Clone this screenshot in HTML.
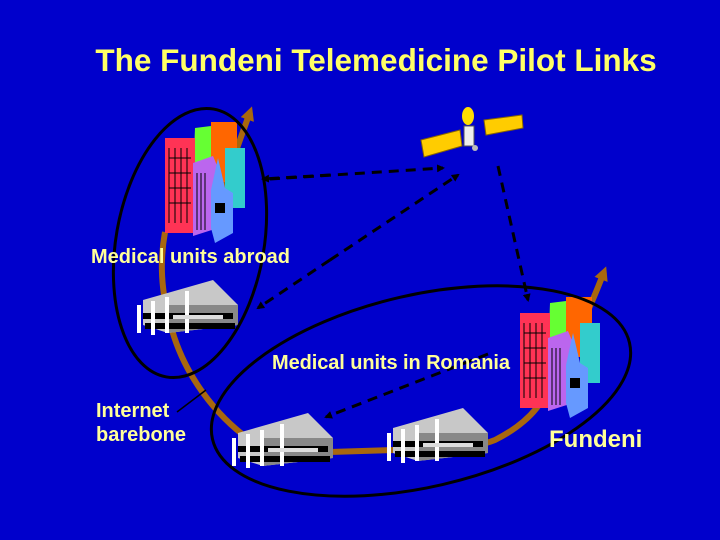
<!DOCTYPE html>
<html><head><meta charset="utf-8"><style>
html,body{margin:0;padding:0;background:#0000cc;}
svg{display:block}
text{font-family:"Liberation Sans",sans-serif;font-weight:bold;}
</style></head><body>
<svg width="720" height="540" viewBox="0 0 720 540" xmlns="http://www.w3.org/2000/svg">
<defs>
<marker id="ah" markerWidth="8" markerHeight="8" refX="6" refY="4" orient="auto" markerUnits="userSpaceOnUse"><path d="M0,0 L8,4 L0,8 Z" fill="#000"/></marker>
<marker id="bh" markerWidth="14" markerHeight="14" refX="8" refY="7" orient="auto" markerUnits="userSpaceOnUse"><path d="M0,0 L14,7 L0,14 Z" fill="#a8670e"/></marker>
<g id="bld">
<polygon points="10,25 80,5 105,30 105,50 35,58 10,50" fill="#c8c8c8"/>
<polygon points="35,30 105,30 105,50 35,58" fill="#888"/>
<rect x="10" y="38" width="90" height="6" fill="#000"/>
<rect x="12" y="48" width="90" height="6" fill="#000"/>
<rect x="4" y="30" width="4" height="28" fill="#fff"/>
<rect x="18" y="26" width="4" height="34" fill="#fff"/>
<rect x="32" y="22" width="4" height="36" fill="#fff"/>
<rect x="52" y="16" width="4" height="42" fill="#fff"/>
<rect x="40" y="40" width="50" height="4" fill="#ddd"/>
</g>
<g id="city">
<polygon points="32,10 48,8 52,22 54,60 30,62" fill="#66ff33"/>
<rect x="48" y="4" width="26" height="60" fill="#ff6600"/>
<rect x="62" y="30" width="20" height="60" fill="#33cccc"/>
<rect x="2" y="20" width="30" height="95" fill="#ff3355"/>
<g stroke="#000" stroke-width="1">
<path d="M6,30 V105 M12,30 V105 M18,30 V105 M24,30 V105 M6,40 H28 M6,55 H28 M6,70 H28 M6,85 H28"/>
</g>
<polygon points="30,45 50,38 55,50 55,110 30,118" fill="#bb66ee"/>
<path d="M34,55 V112 M38,55 V112 M42,55 V112" stroke="#000"/>
<polygon points="55,40 62,70 70,75 70,115 52,125 48,110 48,72" fill="#6699ff"/>
<rect x="52" y="85" width="10" height="10" fill="#000"/>
</g>
</defs>
<text x="376" y="71" font-size="31.5" fill="#ffff66" text-anchor="middle">The Fundeni Telemedicine Pilot Links</text>

<path d="M165,232 C160,260 160,290 172,330 C185,375 215,415 250,440 C270,452 300,452 330,452 L395,450 C430,450 470,450 495,440 C515,430 535,415 545,395" fill="none" stroke="#a8670e" stroke-width="6"/>
<path d="M215,215 C225,180 240,140 250,112" fill="none" stroke="#a8670e" stroke-width="6" marker-end="url(#bh)"/>
<path d="M570,345 C585,320 595,295 604,272" fill="none" stroke="#a8670e" stroke-width="6" marker-end="url(#bh)"/>

<use href="#city" x="163" y="118"/>
<use href="#city" x="518" y="293"/>
<use href="#bld" x="133" y="275"/>
<use href="#bld" x="228" y="408"/>
<use href="#bld" x="383" y="403"/>

<g>
<polygon points="421,140 460,130 462,146 424,157" fill="#ffcc00" stroke="#886600"/>
<polygon points="484,120 522,115 523,128 486,135" fill="#ffcc00" stroke="#886600"/>
<ellipse cx="468" cy="116" rx="6" ry="9" fill="#ffdd00"/>
<rect x="464" y="126" width="10" height="20" fill="#eee" stroke="#555"/>
<circle cx="475" cy="148" r="3" fill="#bbb"/>
</g>

<ellipse cx="190" cy="243" rx="74" ry="136" transform="rotate(10 190 243)" fill="none" stroke="#000" stroke-width="3"/>
<ellipse cx="421" cy="391" rx="214" ry="96" transform="rotate(-13 421 391)" fill="none" stroke="#000" stroke-width="3"/>

<g stroke="#000" stroke-width="3" stroke-dasharray="10,7" fill="none">
<line x1="270" y1="179" x2="443" y2="168" marker-end="url(#ah)"/>
<line x1="330" y1="175" x2="263" y2="179" marker-end="url(#ah)"/>
<line x1="330" y1="260" x2="458" y2="175" marker-end="url(#ah)"/>
<line x1="330" y1="260" x2="258" y2="308" marker-end="url(#ah)"/>
<line x1="498" y1="166" x2="528" y2="300" marker-end="url(#ah)"/>
<line x1="488" y1="354" x2="326" y2="417" marker-end="url(#ah)"/>
</g>
<line x1="177" y1="412" x2="206" y2="390" stroke="#000" stroke-width="1.5"/>

<g fill="#ffff99" font-size="20">
<text x="91" y="263" textLength="199">Medical units abroad</text>
<text x="272" y="369" textLength="238">Medical units in Romania</text>
<text x="96" y="417">Internet</text>
<text x="96" y="441">barebone</text>
<text x="549" y="447" font-size="24">Fundeni</text>
</g>
</svg>
</body></html>
